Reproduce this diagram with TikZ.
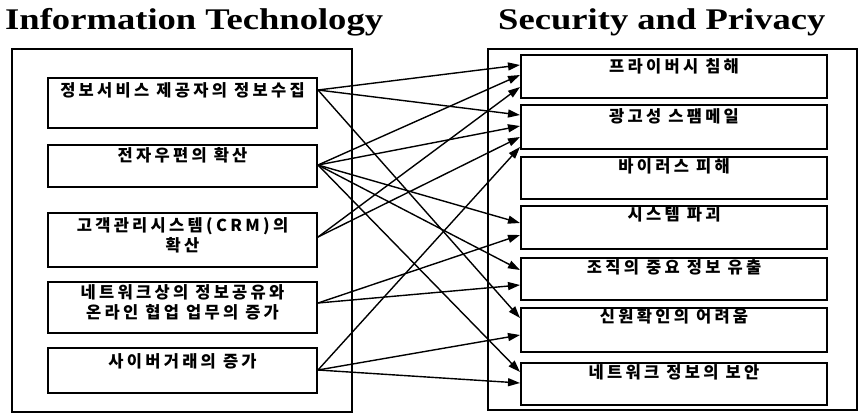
\documentclass[tikz,border=0pt]{standalone}
\usepackage{fontspec}
\setmainfont{Liberation Serif}
\newfontfamily\kr[LetterSpace=20]{Noto Sans CJK KR}
\newfontfamily\ttl[FakeStretch=1.22]{Liberation Serif}
\usetikzlibrary{arrows.meta,calc}
\begin{document}
\begin{tikzpicture}[x=1pt,y=-1pt,
  outer/.style={draw, line width=1.5pt, inner sep=0pt},
  inbox/.style={draw, line width=2pt, inner sep=0pt},
  lbox/.style={inbox, minimum width=269pt},
  rbox/.style={inbox, minimum width=306pt},
  lbl/.style={font=\kr\bfseries\fontsize{16.5}{20}\selectfont, align=center, inner sep=0pt, anchor=center},
  conn/.style={line width=1.4pt, -{Triangle[length=12pt,width=8pt]}},
  ttlstyle/.style={font=\ttl\bfseries\fontsize{30}{30}\selectfont, anchor=base west, inner sep=0pt}]
\useasboundingbox (0,0) rectangle (859,418);
\fill[white] (0,0) rectangle (859,418);

% titles
\node[ttlstyle] (t1) at (5,29) {Information Technology};
\node[ttlstyle] (t2) at (498,29) {Security and Privacy};

% outer frames
\node[outer, minimum width=340pt, minimum height=363pt] (LO) at (182,230.5) {};
\node[outer, minimum width=369pt, minimum height=361pt] (RO) at (672.5,229.5) {};

% left boxes
\node[lbox, minimum height=50pt] (L1) at (182.5,103) {};
\node[lbox, minimum height=42pt] (L2) at (182.5,166) {};
\node[lbox, minimum height=54pt] (L3) at (182.5,240) {};
\node[lbox, minimum height=51pt] (L4) at (182.5,307.5) {};
\node[lbox, minimum height=45pt] (L5) at (182.5,370.5) {};

\node[lbl] (L1t) at ($(L1.north)+(0,13)$) {정보서비스 제공자의 정보수집};
\node[lbl] (L2t) at ($(L2.north)+(0,11)$) {전자우편의 확산};
\node[lbl] (L3t) at ($(L3.north)+(0,23)$) {고객관리시스템(CRM)의\\확산};
\node[lbl] (L4t) at ($(L4.north)+(0,21)$) {네트워크상의 정보공유와\\온라인 협업 업무의 증가};
\node[lbl] (L5t) at ($(L5.north)+(0,14)$) {사이버거래의 증가};

% right boxes
\node[rbox, minimum height=43pt] (R1) at (674,76.5) {};
\node[rbox, minimum height=44pt] (R2) at (674,127) {};
\node[rbox, minimum height=42pt] (R3) at (674,178) {};
\node[rbox, minimum height=43pt] (R4) at (674,227.5) {};
\node[rbox, minimum height=42pt] (R5) at (674,279) {};
\node[rbox, minimum height=44pt] (R6) at (674,330) {};
\node[rbox, minimum height=42pt] (R7) at (674,384) {};

\node[lbl] (R1t) at ($(R1.north)+(0,12)$) {프라이버시 침해};
\node[lbl] (R2t) at ($(R2.north)+(0,12)$) {광고성 스팸메일};
\node[lbl] (R3t) at ($(R3.north)+(0,10.5)$) {바이러스 피해};
\node[lbl] (R4t) at ($(R4.north)+(0,9.5)$) {시스템 파괴};
\node[lbl] (R5t) at ($(R5.north)+(0,10)$) {조직의 중요 정보 유출};
\node[lbl] (R6t) at ($(R6.north)+(0,9.5)$) {신원확인의 어려움};
\node[lbl] (R7t) at ($(R7.north)+(0,10)$) {네트워크 정보의 보안};

% start points
\coordinate (s1) at ($(L1.east)+(0,-13)$);
\coordinate (s2) at ($(L2.east)+(0,-1)$);
\coordinate (s3) at ($(L3.east)+(0,-3)$);
\coordinate (s4) at ($(L4.east)+(0,-4.5)$);
\coordinate (s5) at ($(L5.east)+(0,-0.5)$);

% connectors
\draw[conn] (s1) -- ($(R1.west)+(0,-11.5)$);
\draw[conn] (s1) -- ($(R2.west)+(0,-12)$);
\draw[conn] (s1) -- ($(R6.west)+(0,-12)$);

\draw[conn] (s2) -- ($(R1.west)+(0,-1.5)$);
\draw[conn] (s2) -- ($(R2.west)+(0,-1)$);
\draw[conn] (s2) -- ($(R4.west)+(0,-4.5)$);
\draw[conn] (s2) -- ($(R5.west)+(0,-9)$);
\draw[conn] (s2) -- ($(R7.west)+(0,-12)$);

\draw[conn] (s3) -- ($(R1.west)+(0,10.5)$);
\draw[conn] (s3) -- ($(R2.west)+(0,10)$);

\draw[conn] (s4) -- ($(R4.west)+(0,7.5)$);
\draw[conn] (s4) -- ($(R5.west)+(0,6)$);

\draw[conn] (s5) -- ($(R2.west)+(0,20)$);
\draw[conn] (s5) -- ($(R6.west)+(0,5)$);
\draw[conn] (s5) -- ($(R7.west)+(0,-1)$);
\end{tikzpicture}
\end{document}
